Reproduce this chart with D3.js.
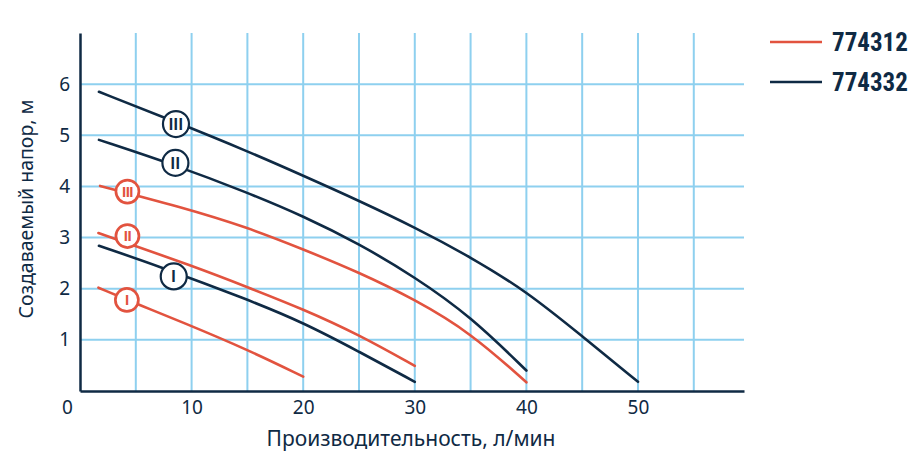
<!DOCTYPE html>
<html>
<head>
<meta charset="utf-8">
<script src="https://cdn.jsdelivr.net/npm/d3@7"></script>
<style>
  html, body { margin: 0; padding: 0; background: #fff; }
  #container { width: 916px; height: 471px; }
</style>
</head>
<body>
<div id="container"></div>
<script>
// 数据：横轴流量 (л/мин)，纵轴扬程 (м)
const xTicks = [0, 10, 20, 30, 40, 50];
const yTicks = [1, 2, 3, 4, 5, 6];
const xGrid = [5, 10, 15, 20, 25, 30, 35, 40, 45, 50, 55];
const seriesNames = ["774312", "774332"];

// 774312（红色）三档曲线
const red1 = [[1.65, 2.02], [5.7, 1.65], [9, 1.36], [15, 0.81], [20, 0.28]];
const red2 = [[1.65, 3.09], [10.4, 2.42], [15, 2.03], [20, 1.6], [25, 1.1], [30, 0.49]];
const red3 = [[1.8, 4.01], [9, 3.6], [15, 3.2], [20, 2.77], [25, 2.32], [30, 1.79], [35, 1.14], [40, 0.17]];

// 774332（深蓝）三档曲线
const navy1 = [[1.7, 2.84], [7.2, 2.43], [15, 1.79], [20, 1.34], [25, 0.77], [30, 0.18]];
const navy2 = [[1.7, 4.91], [8.5, 4.42], [15, 3.88], [20, 3.42], [25, 2.88], [30, 2.23], [35, 1.46], [40, 0.4]];
const navy3 = [[1.7, 5.85], [8.6, 5.26], [15, 4.69], [20, 4.21], [25, 3.72], [30, 3.2], [35, 2.62], [40, 1.95], [45, 1.07], [50, 0.18]];

// 档位标记（罗马数字）
const markerLabels = ["I", "II", "III"];
const redMarkerX = [4.2, 4.25, 4.25];
const redMarkerY = [1.78, 3.03, 3.9];
const navyMarkerX = [8.4, 8.55, 8.6];
const navyMarkerY = [2.24, 4.46, 5.22];

const RED = "#e2533f";
const NAVY = "#0f2a44";
const GRID = "#8ed0ef";
const FONT = "'Noto Sans', 'DejaVu Sans', sans-serif";

const width = 916;
const height = 471;
const marginLeft = 80;
const plotRight = 744;
const marginTop = 33;
const plotBottom = 391;

const svg = d3.select("#container")
  .append("svg")
  .attr("width", width)
  .attr("height", height)
  .attr("viewBox", [0, 0, width, height]);

const x = d3.scaleLinear().domain([0, 59.5]).range([marginLeft, plotRight]);
const y = d3.scaleLinear().domain([0, 7]).range([plotBottom, marginTop]);

// 网格线
svg.append("g")
  .attr("stroke", GRID)
  .attr("stroke-width", 2)
  .call(g => g.selectAll("line.v").data(xGrid).join("line")
    .attr("x1", d => x(d)).attr("x2", d => x(d))
    .attr("y1", y(0)).attr("y2", y(7)))
  .call(g => g.selectAll("line.h").data(yTicks).join("line")
    .attr("x1", x(0)).attr("x2", plotRight)
    .attr("y1", d => y(d)).attr("y2", d => y(d)));

// 横轴
svg.append("g")
  .attr("transform", `translate(0,${plotBottom})`)
  .call(d3.axisBottom(x).tickValues(xTicks).tickFormat(d3.format("d")).tickSize(0).tickPadding(10))
  .call(g => g.select(".domain").attr("stroke", NAVY).attr("stroke-width", 2.5))
  .call(g => g.selectAll(".tick text")
    .attr("font-family", FONT).attr("font-size", 19).attr("fill", NAVY)
    .attr("dx", d => d === 0 ? -13 : 0));

// 纵轴
svg.append("g")
  .attr("transform", `translate(${marginLeft},0)`)
  .call(d3.axisLeft(y).tickValues(yTicks).tickFormat(d3.format("d")).tickSize(0).tickPadding(10))
  .call(g => g.select(".domain").attr("stroke", NAVY).attr("stroke-width", 2.5))
  .call(g => g.selectAll(".tick text")
    .attr("font-family", FONT).attr("font-size", 19).attr("fill", NAVY));

// 坐标轴标题
svg.append("text")
  .attr("x", 411).attr("y", 446)
  .attr("text-anchor", "middle")
  .attr("font-family", FONT).attr("font-size", 21).attr("fill", NAVY)
  .text("Производительность, л/мин");

svg.append("text")
  .attr("transform", "translate(33,209) rotate(-90)")
  .attr("text-anchor", "middle")
  .attr("font-family", FONT).attr("font-size", 19.5).attr("fill", NAVY)
  .text("Создаваемый напор, м");

// 曲线：B 样条平滑
const line = d3.line()
  .curve(d3.curveBasis)
  .x(d => x(d[0]))
  .y(d => y(d[1]));

const curves = [
  { data: red1, color: RED }, { data: red2, color: RED }, { data: red3, color: RED },
  { data: navy1, color: NAVY }, { data: navy2, color: NAVY }, { data: navy3, color: NAVY }
];

svg.append("g")
  .attr("fill", "none")
  .attr("stroke-width", 2.6)
  .attr("stroke-linecap", "round")
  .selectAll("path")
  .data(curves)
  .join("path")
  .attr("stroke", d => d.color)
  .attr("d", d => line(d.data));

// 档位标记
function drawMarkers(xs, ys, color, r, sw, fs, ls) {
  const g = svg.append("g")
    .selectAll("g")
    .data(markerLabels)
    .join("g")
    .attr("transform", (d, i) => `translate(${x(xs[i])},${y(ys[i])})`);
  g.append("circle")
    .attr("r", r)
    .attr("fill", "white")
    .attr("stroke", color)
    .attr("stroke-width", sw);
  g.append("text")
    .attr("text-anchor", "middle")
    .attr("dy", "0.36em")
    .attr("font-family", "'Liberation Sans', Arial, sans-serif")
    .attr("font-weight", "bold")
    .attr("font-size", fs)
    .attr("letter-spacing", ls)
    .attr("fill", color)
    .text(d => d);
}
drawMarkers(redMarkerX, redMarkerY, RED, 11.5, 2.7, 15, -0.6);
drawMarkers(navyMarkerX, navyMarkerY, NAVY, 13, 2.2, 16, 0.4);

// 图例
const legend = svg.append("g")
  .selectAll("g")
  .data(seriesNames)
  .join("g")
  .attr("transform", (d, i) => `translate(770,${42 + i * 40})`);

legend.append("line")
  .attr("x1", 0).attr("x2", 52)
  .attr("stroke", (d, i) => i === 0 ? RED : NAVY)
  .attr("stroke-width", 2.6);

legend.append("text")
  .attr("x", 62).attr("dy", "0.36em")
  .attr("font-family", "'Liberation Sans Narrow', 'Roboto Condensed', Roboto, sans-serif")
  .attr("font-weight", "bold")
  .attr("font-size", 25)
  .attr("fill", NAVY)
  .text(d => d);
</script>
</body>
</html>
